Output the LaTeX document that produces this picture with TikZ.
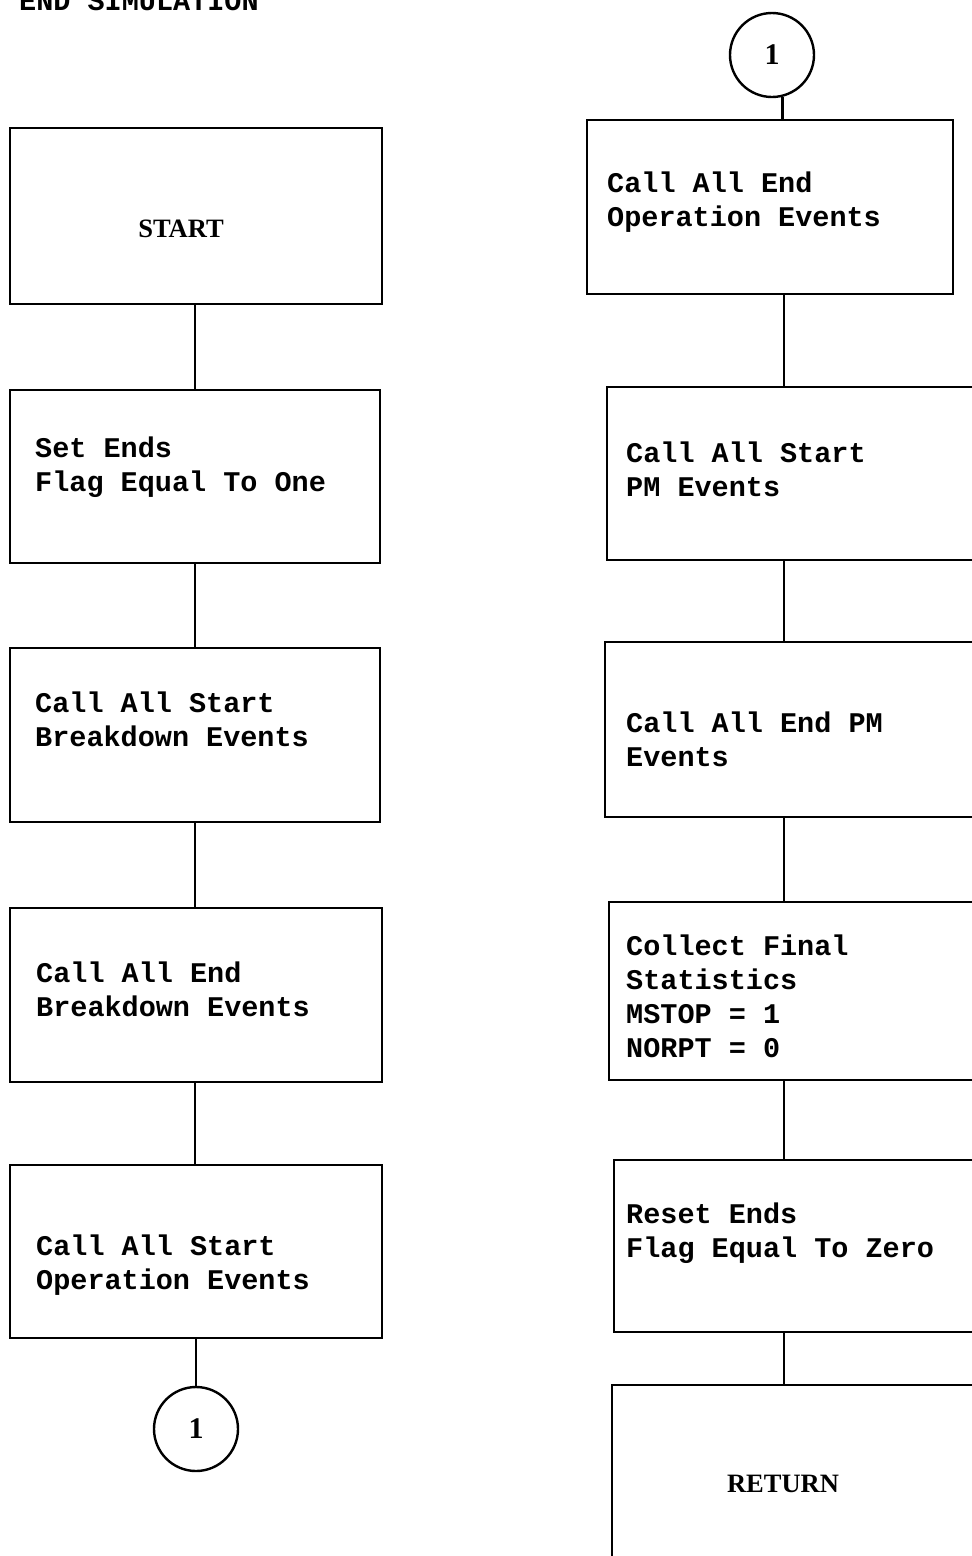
\documentclass[tikz,border=0pt]{standalone}
\usepackage{fontspec}
\setmainfont{Liberation Serif}
\newfontfamily\twfont{Liberation Mono}
\usetikzlibrary{fit}
\begin{document}
\begin{tikzpicture}[x=1pt,y=-1pt,
  box/.style={draw, line width=2.6pt, rectangle, inner sep=0pt},
  txt/.style={inner sep=0pt, align=left, anchor=base west,
    font=\fontsize{28.5pt}{34pt}\selectfont\twfont\bfseries},
  captxt/.style={inner sep=0pt, font=\fontsize{26.5pt}{30pt}\selectfont\bfseries},
  conn/.style={draw, circle, line width=2.4pt, minimum size=84pt, inner sep=0pt,
    font=\fontsize{30pt}{30pt}\selectfont\bfseries},
  link/.style={line width=2.2pt}]
\useasboundingbox (0,0) rectangle (972,1556);
\clip (0,0) rectangle (972,1556);
% title
\node[txt] (title) at (19,10) {END SIMULATION};
% left column
\node[box, fit={(10,128) (382,304)}] (b1) {};
\node[captxt] (t1) at (181,229) {START};
\node[box, fit={(10,390) (380,563)}] (b2) {};
\node[txt] (t2) at (35,491) {Set Ends\\Flag Equal To One};
\node[box, fit={(10,648) (380,822)}] (b3) {};
\node[txt] (t3) at (35,746) {Call All Start\\Breakdown Events};
\node[box, fit={(10,908) (382,1082)}] (b4) {};
\node[txt] (t4) at (36,1016) {Call All End\\Breakdown Events};
\node[box, fit={(10,1165) (382,1338)}] (b5) {};
\node[txt] (t5) at (36,1289) {Call All Start\\Operation Events};
\node[conn] (c1) at (196,1429) {1};
% right column
\node[conn] (c2) at (772,55) {1};
\node[box, fit={(587,120) (953,294)}] (b6) {};
\node[txt] (t6) at (607,226) {Call All End\\Operation Events};
\node[box, fit={(607,387) (995,560)}] (b7) {};
\node[txt] (t7) at (626,496) {Call All Start\\PM Events};
\node[box, fit={(605,642) (995,817)}] (b8) {};
\node[txt] (t8) at (626,766) {Call All End PM\\Events};
\node[box, fit={(609,902) (995,1080)}] (b9) {};
\node[txt] (t9) at (626,1057) {Collect Final\\Statistics\\MSTOP = 1\\NORPT = 0};
\node[box, fit={(614,1160) (995,1332)}] (b10) {};
\node[txt] (t10) at (626,1257) {Reset Ends\\Flag Equal To Zero};
\node[box, fit={(612,1385) (995,1620)}] (b11) {};
\node[captxt] (t11) at (783,1484) {RETURN};
% connectors
\coordinate (lx) at (195,0);
\coordinate (rx) at (784,0);
\draw[link] (b1.south -| lx) -- (b2.north -| lx);
\draw[link] (b2.south -| lx) -- (b3.north -| lx);
\draw[link] (b3.south -| lx) -- (b4.north -| lx);
\draw[link] (b4.south -| lx) -- (b5.north -| lx);
\draw[link] (b5.south -| c1) -- (c1);
\draw[link] (c2.-76) -- (c2.-76 |- b6.north);
\draw[link] (b6.south -| rx) -- (b7.north -| rx);
\draw[link] (b7.south -| rx) -- (b8.north -| rx);
\draw[link] (b8.south -| rx) -- (b9.north -| rx);
\draw[link] (b9.south -| rx) -- (b10.north -| rx);
\draw[link] (b10.south -| rx) -- (b11.north -| rx);
\end{tikzpicture}
\end{document}
